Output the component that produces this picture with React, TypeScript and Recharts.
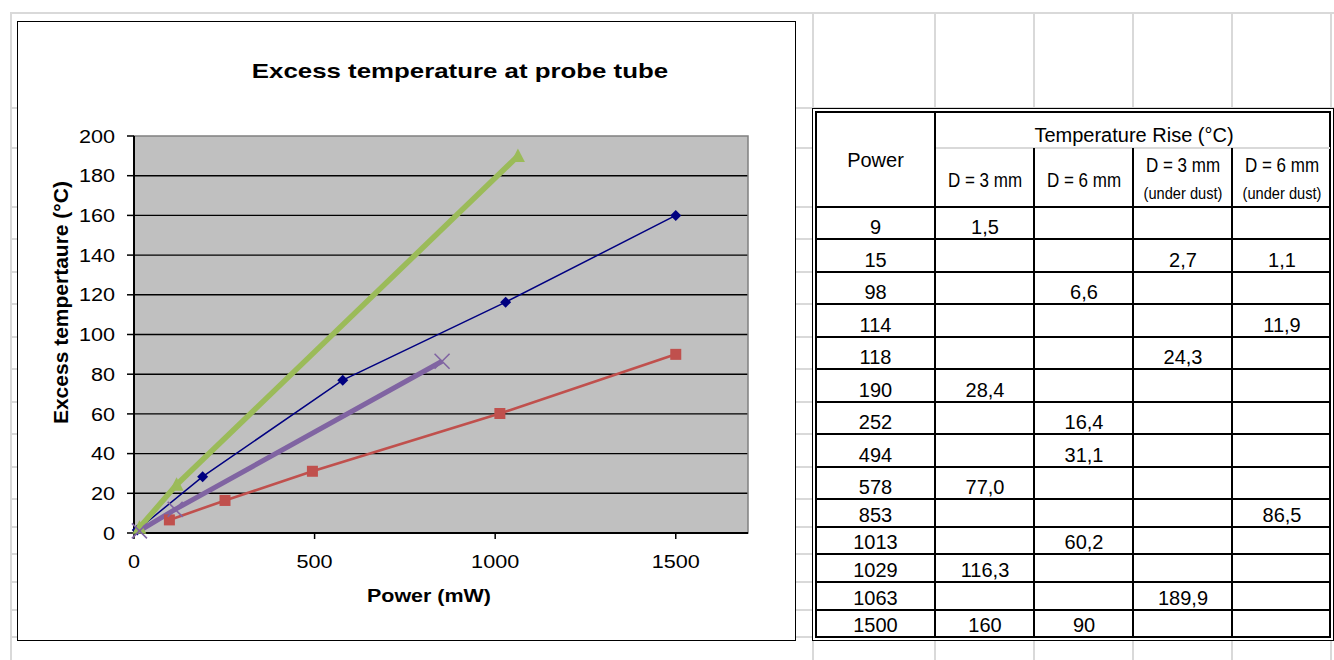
import React from "react";
import { LineChart, Line, XAxis, YAxis, CartesianGrid, ReferenceArea } from "recharts";

// ---- data (as printed in the table) ----
const powers = [9, 15, 98, 114, 118, 190, 252, 494, 578, 853, 1013, 1029, 1063, 1500];
const d3mm = ["1,5", "", "", "", "", "28,4", "", "", "77,0", "", "", "116,3", "", "160"];
const d6mm = ["", "", "6,6", "", "", "", "16,4", "31,1", "", "", "60,2", "", "", "90"];
const d3mmDust = ["", "2,7", "", "", "24,3", "", "", "", "", "", "", "", "189,9", ""];
const d6mmDust = ["", "1,1", "", "11,9", "", "", "", "", "", "86,5", "", "", "", ""];
const xTicks = [0, 500, 1000, 1500];
const yTicks = [0, 20, 40, 60, 80, 100, 120, 140, 160, 180, 200];
const gridValues = [20, 40, 60, 80, 100, 120, 140, 160, 180];
const columnHeads = ["D = 3 mm", "D = 6 mm", "D = 3 mm", "D = 6 mm"];
const columnSubs = ["", "", "(under dust)", "(under dust)"];

const FONT = '"Liberation Sans", Arial, sans-serif';

type Pt = { x: number; y: number };
const toSeries = (cells: string[]): Pt[] =>
  powers
    .map((p, i) => (cells[i] ? { x: p, y: parseFloat(cells[i].replace(",", ".")) } : null))
    .filter((v): v is Pt => v !== null);

const sBlue = toSeries(d3mm);
const sRed = toSeries(d6mm);
const sGreen = toSeries(d3mmDust);
const sPurple = toSeries(d6mmDust);

// ---- helpers ----
function Txt(props: {
  cx: number;
  base: number;
  size: number;
  bold?: boolean;
  sx?: number;
  children: React.ReactNode;
}) {
  const { cx, base, size, bold, sx = 1, children } = props;
  const lh = size * 1.2;
  return (
    <div
      style={{
        position: "absolute",
        left: cx - 300,
        top: base - 0.9465 * size,
        width: 600,
        height: lh,
        lineHeight: lh + "px",
        fontSize: size,
        fontWeight: bold ? "bold" : "normal",
        fontFamily: FONT,
        textAlign: "center",
        whiteSpace: "nowrap",
        transform: `scaleX(${sx})`,
        transformOrigin: "center",
        color: "#000",
      }}
    >
      {children}
    </div>
  );
}

function HL(p: { y: number; x1: number; x2: number; w?: number; c?: string }) {
  const w = p.w ?? 2;
  return (
    <div
      style={{
        position: "absolute",
        left: p.x1,
        top: p.y - w / 2,
        width: p.x2 - p.x1,
        height: w,
        background: p.c ?? "#000",
      }}
    />
  );
}
function VL(p: { x: number; y1: number; y2: number; w?: number; c?: string }) {
  const w = p.w ?? 2;
  return (
    <div
      style={{
        position: "absolute",
        left: p.x - w / 2,
        top: p.y1,
        width: w,
        height: p.y2 - p.y1,
        background: p.c ?? "#000",
      }}
    />
  );
}

const YTick = (props: any) => {
  const { x, y, payload } = props;
  return (
    <g transform={`translate(${x},${y})`}>
      <text
        transform="scale(1.17,1)"
        textAnchor="end"
        dy={6.6}
        fontSize={18.5}
        fontFamily={FONT}
        fill="#000"
      >
        {payload.value}
      </text>
    </g>
  );
};
const XTick = (props: any) => {
  const { x, y, payload } = props;
  return (
    <g transform={`translate(${x},${y})`}>
      <text
        transform="scale(1.17,1)"
        textAnchor="middle"
        dy={13.3}
        fontSize={18.5}
        fontFamily={FONT}
        fill="#000"
      >
        {payload.value}
      </text>
    </g>
  );
};

const diamondDot = (p: any) => (
  <polygon
    key={`db-${p.index}`}
    points={`${p.cx},${p.cy - 5.5} ${p.cx + 5.5},${p.cy} ${p.cx},${p.cy + 5.5} ${p.cx - 5.5},${p.cy}`}
    fill="#000080"
  />
);
const squareDot = (p: any) => (
  <rect key={`dr-${p.index}`} x={p.cx - 5.5} y={p.cy - 5.5} width={11} height={11} fill="#C0504D" />
);
const triDot = (p: any) => (
  <polygon
    key={`dg-${p.index}`}
    points={`${p.cx},${p.cy - 7.5} ${p.cx + 7},${p.cy + 6} ${p.cx - 7},${p.cy + 6}`}
    fill="#9BBB59"
  />
);
const xDot = (p: any) => (
  <g key={`dp-${p.index}`}>
    <line x1={p.cx - 7.5} y1={p.cy - 7.5} x2={p.cx + 7.5} y2={p.cy + 7.5} stroke="#8064A2" strokeWidth={1.6} />
    <line x1={p.cx - 7.5} y1={p.cy + 7.5} x2={p.cx + 7.5} y2={p.cy - 7.5} stroke="#8064A2" strokeWidth={1.6} />
  </g>
);

// layout constants
const sheetRows = [13, 108, 148, 207, 239, 272, 304, 337, 369, 402, 434, 467, 499, 527, 554, 582, 610, 637];
const sheetCols = [11, 813, 935, 1034, 1133, 1232, 1331];
const rowBottoms = [239, 272, 304, 337, 369, 402, 434, 467, 499, 527, 554, 582, 610, 637];
const colCenters = [875.5, 985, 1084, 1183, 1282];
const GRAY = "#D9D9D9";

export default function App() {
  const tableCols = [powers.map(String), d3mm, d6mm, d3mmDust, d6mmDust];
  return (
    <div
      style={{
        position: "absolute",
        left: 0,
        top: 0,
        width: 1334,
        height: 660,
        overflow: "hidden",
        background: "#fff",
        fontFamily: FONT,
      }}
    >
      {/* spreadsheet grid */}
      {sheetRows.map((y) => (
        <HL key={`sr${y}`} y={y} x1={11} x2={1334} c={GRAY} />
      ))}
      {sheetCols.map((x) => (
        <VL key={`sc${x}`} x={x} y1={12} y2={660} c={GRAY} />
      ))}

      {/* chart box */}
      <div
        style={{
          position: "absolute",
          left: 17,
          top: 21,
          width: 779,
          height: 620,
          boxSizing: "border-box",
          border: "1.5px solid #000",
          background: "#fff",
        }}
      />
      <div style={{ position: "absolute", left: 0, top: 0 }}>
        <LineChart width={800} height={660} margin={{ top: 136, right: 52, bottom: 97, left: 74 }}>
          <CartesianGrid
            vertical={false}
            horizontalValues={gridValues}
            stroke="#000"
            strokeWidth={1.4}
            fill="#C0C0C0"
            fillOpacity={1}
          />
          <ReferenceArea x1={0} x2={1700} y1={0} y2={200} fill="none" stroke="#808080" strokeWidth={1.5} />
          <XAxis
            type="number"
            dataKey="x"
            domain={[0, 1700]}
            ticks={xTicks}
            interval={0}
            height={30}
            tickSize={6}
            tickMargin={16}
            tick={XTick}
            axisLine={{ stroke: "#000", strokeWidth: 2 }}
            tickLine={{ stroke: "#000", strokeWidth: 1.5 }}
          />
          <YAxis
            type="number"
            domain={[0, 200]}
            ticks={yTicks}
            interval={0}
            width={60}
            tickSize={7}
            tickMargin={12}
            tick={YTick}
            axisLine={{ stroke: "#000", strokeWidth: 2 }}
            tickLine={{ stroke: "#000", strokeWidth: 1.5 }}
          />
          <Line
            data={sBlue}
            dataKey="y"
            type="linear"
            stroke="#000080"
            strokeWidth={1.5}
            dot={diamondDot}
            activeDot={false}
            isAnimationActive={false}
          />
          <Line
            data={sRed}
            dataKey="y"
            type="linear"
            stroke="#C0504D"
            strokeWidth={2.6}
            dot={squareDot}
            activeDot={false}
            isAnimationActive={false}
          />
          <Line
            data={sGreen}
            dataKey="y"
            type="linear"
            stroke="#9BBB59"
            strokeWidth={5.5}
            dot={triDot}
            activeDot={false}
            isAnimationActive={false}
          />
          <Line
            data={sPurple}
            dataKey="y"
            type="linear"
            stroke="#8064A2"
            strokeWidth={5}
            dot={xDot}
            activeDot={false}
            isAnimationActive={false}
          />
        </LineChart>
      </div>

      {/* chart texts */}
      <Txt cx={460} base={78} size={21} bold sx={1.23}>
        Excess temperature at probe tube
      </Txt>
      <Txt cx={429} base={603} size={19} bold sx={1.13}>
        Power (mW)
      </Txt>
      <div
        style={{
          position: "absolute",
          left: 60.7 - 200,
          top: 302.5 - 12.6,
          width: 400,
          height: 25.2,
          lineHeight: "25.2px",
          fontSize: 21,
          fontWeight: "bold",
          fontFamily: FONT,
          textAlign: "center",
          whiteSpace: "nowrap",
          transform: "rotate(-90deg)",
          transformOrigin: "center",
        }}
      >
        Excess tempertaure (°C)
      </div>

      {/* table */}
      <div
        style={{
          position: "absolute",
          left: 812,
          top: 108,
          width: 522,
          height: 533,
          boxSizing: "border-box",
          border: "1.5px solid #000",
          background: "#fff",
        }}
      />
      <div
        style={{
          position: "absolute",
          left: 815,
          top: 111,
          width: 516,
          height: 527,
          boxSizing: "border-box",
          border: "2px solid #000",
        }}
      />
      <HL y={148} x1={936} x2={1330} c={GRAY} />
      <VL x={935} y1={111} y2={638} />
      {[1034, 1133, 1232].map((x) => (
        <VL key={`tv${x}`} x={x} y1={148} y2={638} />
      ))}
      {[207, ...rowBottoms.slice(0, -1)].map((y) => (
        <HL key={`th${y}`} y={y} x1={815} x2={1331} />
      ))}

      <Txt cx={875.5} base={167} size={20}>
        Power
      </Txt>
      <Txt cx={1134} base={142} size={20}>
        Temperature Rise (°C)
      </Txt>
      {columnHeads.map((h, i) =>
        columnSubs[i] ? (
          <React.Fragment key={`ch${i}`}>
            <Txt cx={colCenters[i + 1]} base={172} size={20} sx={0.85}>
              {h}
            </Txt>
            <Txt cx={colCenters[i + 1]} base={200} size={17} sx={0.86}>
              {columnSubs[i]}
            </Txt>
          </React.Fragment>
        ) : (
          <Txt key={`ch${i}`} cx={colCenters[i + 1]} base={187} size={20} sx={0.85}>
            {h}
          </Txt>
        )
      )}
      {tableCols.map((col, ci) =>
        col.map((v, ri) =>
          v ? (
            <Txt key={`c${ci}-${ri}`} cx={colCenters[ci]} base={rowBottoms[ri] - 5} size={20}>
              {v}
            </Txt>
          ) : null
        )
      )}
    </div>
  );
}
